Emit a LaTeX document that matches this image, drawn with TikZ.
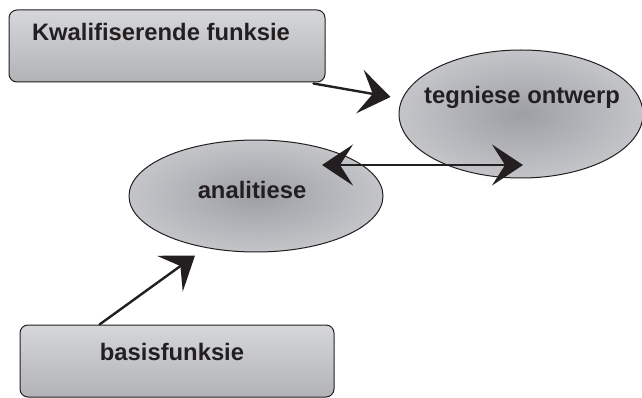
\documentclass[tikz,border=0pt]{standalone}
\usepackage{fontspec}
\setmainfont{Liberation Sans}
\usetikzlibrary{arrows.meta,calc,shapes.geometric}

\definecolor{ink}{RGB}{35,31,32}
\definecolor{boxtop}{RGB}{214,215,218}
\definecolor{boxbot}{RGB}{178,179,183}
\definecolor{ellin}{RGB}{158,159,164}
\definecolor{ellout}{RGB}{196,197,201}

\begin{document}
\begin{tikzpicture}[x=1pt,y=-1pt,line cap=round,line join=round,
		funcbox/.style={draw=ink,line width=1pt,rounded corners=8pt,top color=boxtop,bottom color=boxbot,minimum width=316pt,minimum height=72pt,inner sep=0pt},
		stagebox/.style={draw=ink,line width=1pt,ellipse,inner color=ellin,outer color=ellout,minimum width=#1,inner sep=0pt},
		lbl/.style={font=\fontsize{23.8}{26}\selectfont\bfseries,text=ink},
		bigarrow/.style={draw=ink,line width=2.4pt,-{Stealth[length=31pt,width=44pt,inset=13pt]}},
		bothways/.style={draw=ink,line width=2.4pt,{Stealth[length=31pt,width=41pt,inset=13pt]}-{Stealth[length=31pt,width=41pt,inset=13pt]}}]
	\useasboundingbox (0,0) rectangle (642,398);
	% boxes
	\node[funcbox] (kwal) at (167,46) {};
	\node[lbl] (kwaltxt) at (161,32) {Kwalifiserende funksie};
	\node[funcbox,minimum width=314pt] (basis) at (177,361) {};
	\node[lbl] (basistxt) at (172,352) {basisfunksie};
	% ellipses
	\node[stagebox=244pt,minimum height=128pt] (tech) at (521,114) {};
	\node[lbl] (techtxt) at (522,97) {tegniese ontwerp};
	\node[stagebox=254pt,minimum height=112pt] (anal) at (256,196) {};
	\node[lbl] (analtxt) at (252,190) {analitiese};
	% connectors
	\coordinate (kwalout) at ([xshift=-12pt,yshift=-1pt]kwal.south east);
	\coordinate (techin) at ([shift={(-8,-17)}]tech.west);
	\draw[bigarrow] (kwalout) -- (techin);
	\coordinate (analend) at ([shift={(66,-31)}]anal.center);
	\coordinate (techend) at ([shift={(2,51)}]tech.center);
	\draw[bothways] (analend) -- (techend);
	\coordinate (basisout) at ([xshift=80pt]basis.north west);
	\coordinate (analin) at ([shift={(-61,3)}]anal.south);
	\draw[bigarrow] (basisout) -- (analin);
\end{tikzpicture}
\end{document}
